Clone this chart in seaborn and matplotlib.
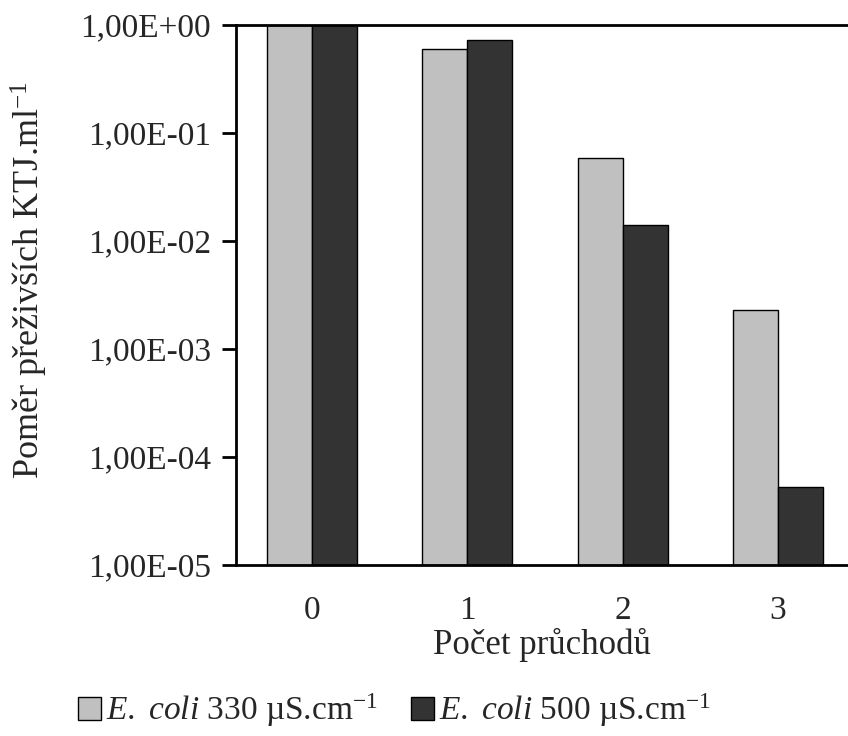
import pandas as pd
import matplotlib
matplotlib.use('Agg')
import matplotlib.pyplot as plt
from matplotlib.patches import Patch
from matplotlib.ticker import NullLocator
import seaborn as sns

# počet průchodů a poměr přeživších KTJ/ml
pruchody = ['0', '1', '2', '3']
ecoli_330 = [1.0, 0.60, 0.059, 0.0023]
ecoli_500 = [1.0, 0.73, 0.0141, 0.000053]
serie = [r'$\mathit{E.}$ $\mathit{coli}$ 330 µS.cm$^{-1}$',
         r'$\mathit{E.}$ $\mathit{coli}$ 500 µS.cm$^{-1}$']
barvy = ['#c0c0c0', '#333333']
yticks = [1e-5, 1e-4, 1e-3, 1e-2, 1e-1, 1e0]
ytick_labels = ['1,00E-05', '1,00E-04', '1,00E-03', '1,00E-02', '1,00E-01', '1,00E+00']

df = pd.DataFrame({
    'pruchod': pruchody * 2,
    'pomer': ecoli_330 + ecoli_500,
    'serie': [serie[0]] * 4 + [serie[1]] * 4,
})

sns.set_style('ticks')
plt.rcParams['font.family'] = ['Liberation Serif', 'DejaVu Serif']
plt.rcParams['mathtext.fontset'] = 'custom'
plt.rcParams['mathtext.rm'] = 'Liberation Serif'
plt.rcParams['mathtext.it'] = 'Liberation Serif:italic'

fig = plt.figure(figsize=(8.48, 7.36), dpi=100)
ax = fig.add_axes([236 / 848, 1 - 565 / 736, 612 / 848, 540 / 736])
ax.set_yscale('log')

sns.barplot(data=df, x='pruchod', y='pomer', hue='serie', palette=barvy,
            width=0.58, gap=0, edgecolor='black', linewidth=1,
            legend=False, ax=ax)

ax.set_ylim(1e-5, 1)
ax.set_xlim(-0.49, 3.45)
ax.set_yticks(yticks, labels=ytick_labels)
ax.yaxis.set_minor_locator(NullLocator())
ax.tick_params(axis='y', labelsize=24, length=10, width=2, pad=8, color='black')
ax.tick_params(axis='x', labelsize=24, length=0, pad=22)

for s in ['top', 'left', 'bottom']:
    ax.spines[s].set_linewidth(2)
    ax.spines[s].set_color('black')
ax.spines['right'].set_visible(False)

ax.set_xlabel('Počet průchodů', fontsize=25, labelpad=1)
ax.set_ylabel(r'Poměr přeživších KTJ.ml$^{-1}$', fontsize=26, va='center')
ax.yaxis.set_label_coords(-0.337, 0.528)

handles = [Patch(facecolor=c, edgecolor='black', linewidth=1) for c in barvy]
fig.legend(handles, serie, loc='center', bbox_to_anchor=(0.465, 0.035), ncol=2,
           frameon=False, fontsize=24, handlelength=0.7, handleheight=0.7,
           handletextpad=0.15, columnspacing=1.0, borderaxespad=0)

fig.savefig('out.png', dpi=100)
